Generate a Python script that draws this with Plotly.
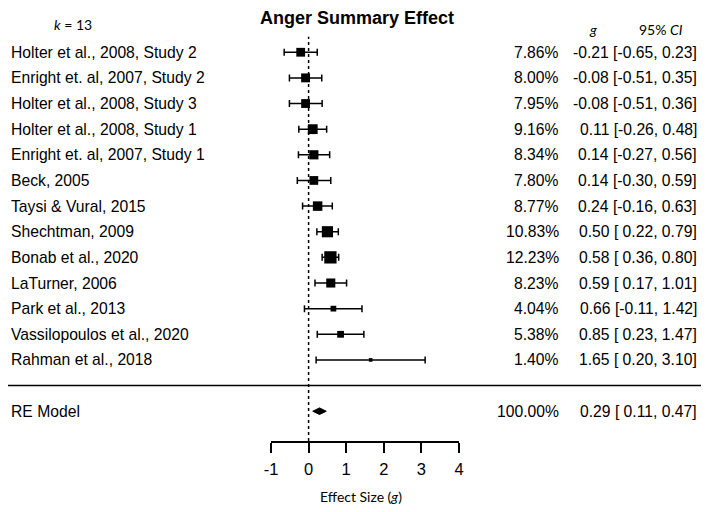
import plotly.graph_objects as go

studies = ["Holter et al., 2008, Study 2", "Enright et. al, 2007, Study 2",
           "Holter et al., 2008, Study 3", "Holter et al., 2008, Study 1",
           "Enright et. al, 2007, Study 1", "Beck, 2005", "Taysi & Vural, 2015",
           "Shechtman, 2009", "Bonab et al., 2020", "LaTurner, 2006",
           "Park et al., 2013", "Vassilopoulos et al., 2020", "Rahman et al., 2018"]
weights = [7.86, 8.00, 7.95, 9.16, 8.34, 7.80, 8.77, 10.83, 12.23, 8.23, 4.04, 5.38, 1.40]
g = [-0.21, -0.08, -0.08, 0.11, 0.14, 0.14, 0.24, 0.50, 0.58, 0.59, 0.66, 0.85, 1.65]
ci_low = [-0.65, -0.51, -0.51, -0.26, -0.27, -0.30, -0.16, 0.22, 0.36, 0.17, -0.11, 0.23, 0.20]
ci_high = [0.23, 0.35, 0.36, 0.48, 0.56, 0.59, 0.63, 0.79, 0.80, 1.01, 1.42, 1.47, 3.10]

re_label = "RE Model"
re_weight = 100.00
re_g = 0.29
re_low = 0.11
re_high = 0.47

x_ticks = [-1, 0, 1, 2, 3, 4]

# page body has an 8px margin: the figure is sized to fit inside it
OFF = 8
W, H = 709 - 2 * OFF, 512 - 2 * OFF
AXIS_Y = 441.5          # target screenshot y of the x axis line
PH = AXIS_Y - OFF       # plot area height
B = H - PH

k = len(studies)
rows = list(range(k, 0, -1))
re_row = -1

row_px = 25.67
top_row_px = 52.3 - OFF
y_top = k + top_row_px / row_px
y_bot = k - (PH - top_row_px) / row_px


def py(px):
    return (PH - (px - OFF)) / PH


def pxx(px):
    return (px - OFF) / W


fig = go.Figure()

sizes = [0.8 * w + 2.5 for w in weights]
fig.add_trace(go.Scatter(
    x=g, y=rows, mode="markers",
    marker=dict(symbol="square", size=sizes, color="black", opacity=1,
                line=dict(width=0)),
    error_x=dict(type="data", symmetric=False,
                 array=[h - e for h, e in zip(ci_high, g)],
                 arrayminus=[e - l for e, l in zip(g, ci_low)],
                 color="black", thickness=1.5, width=3.5),
    showlegend=False, hoverinfo="skip"))

dh = 3.3 / row_px
fig.add_trace(go.Scatter(
    x=[re_low, re_g, re_high, re_g, re_low],
    y=[re_row, re_row + dh, re_row, re_row - dh, re_row],
    mode="lines", fill="toself", fillcolor="black",
    line=dict(color="black", width=1), showlegend=False, hoverinfo="skip"))

shapes = [
    dict(type="line", xref="x", yref="y", x0=0, x1=0, y0=y_bot, y1=k + 0.6,
         line=dict(color="black", width=1.5, dash="dot")),
    dict(type="line", xref="paper", yref="y", x0=0, x1=1, y0=0, y1=0,
         line=dict(color="black", width=1.5)),
]

lab_font = dict(family="Liberation Sans", size=15.7, color="black")
ann = []
for r, s, w, e, lo, hi in zip(rows, studies, weights, g, ci_low, ci_high):
    ann.append(dict(x=pxx(9), y=r, xref="paper", yref="y", text=s,
                    xanchor="left", yanchor="middle", showarrow=False, font=lab_font))
    ann.append(dict(x=pxx(561), y=r, xref="paper", yref="y", text=f"{w:.2f}%",
                    xanchor="right", yanchor="middle", showarrow=False, font=lab_font))
    ann.append(dict(x=pxx(699), y=r, xref="paper", yref="y",
                    text=f"{e:.2f} [{lo:5.2f}, {hi:.2f}]",
                    xanchor="right", yanchor="middle", showarrow=False, font=lab_font))

ann.append(dict(x=pxx(9), y=re_row, xref="paper", yref="y", text=re_label,
                xanchor="left", yanchor="middle", showarrow=False, font=lab_font))
ann.append(dict(x=pxx(561), y=re_row, xref="paper", yref="y", text=f"{re_weight:.2f}%",
                xanchor="right", yanchor="middle", showarrow=False, font=lab_font))
ann.append(dict(x=pxx(699), y=re_row, xref="paper", yref="y",
                text=f"{re_g:.2f} [{re_low:5.2f}, {re_high:.2f}]",
                xanchor="right", yanchor="middle", showarrow=False, font=lab_font))

hdr_font = dict(family="Lato", size=14, color="black")
ann.append(dict(x=pxx(72.5), y=py(25), xref="paper", yref="paper", text=f"<i>k</i> = {k}",
                xanchor="center", yanchor="middle", showarrow=False, font=hdr_font))
ann.append(dict(x=pxx(593), y=py(30), xref="paper", yref="paper", text="<i>g</i>",
                xanchor="center", yanchor="middle", showarrow=False, font=hdr_font))
ann.append(dict(x=pxx(661), y=py(30), xref="paper", yref="paper", text="95% <i>CI</i>",
                xanchor="center", yanchor="middle", showarrow=False, font=hdr_font))
ann.append(dict(x=pxx(357), y=pxx(0) * 0 + 1.0, xref="paper", yref="paper",
                text="<b>Anger Summary Effect</b>",
                xanchor="center", yanchor="top", yshift=2, showarrow=False,
                font=dict(family="Liberation Sans", size=18, color="black")))
ann.append(dict(x=pxx(361), y=py(497.5), xref="paper", yref="paper", text="Effect Size (<i>g</i>)",
                xanchor="center", yanchor="middle", showarrow=False, font=hdr_font))

fig.update_layout(
    template="none",
    width=W, height=H,
    margin=dict(l=0, r=0, t=0, b=B, pad=0, autoexpand=False),
    paper_bgcolor="white", plot_bgcolor="white",
    shapes=shapes, annotations=ann,
    xaxis=dict(domain=[pxx(271), pxx(459)], range=[-1, 4], tickvals=x_ticks,
               ticktext=[str(t) for t in x_ticks], ticks="outside", ticklen=10,
               tickwidth=1.5, tickcolor="black", showline=True, linecolor="black",
               linewidth=1.5, showgrid=False, zeroline=False, ticklabelstandoff=2,
               automargin=False,
               tickfont=dict(family="Liberation Sans", size=16.5, color="black")),
    yaxis=dict(range=[y_bot, y_top], visible=False, showgrid=False, zeroline=False,
               automargin=False),
)

fig.write_html("out.html")
